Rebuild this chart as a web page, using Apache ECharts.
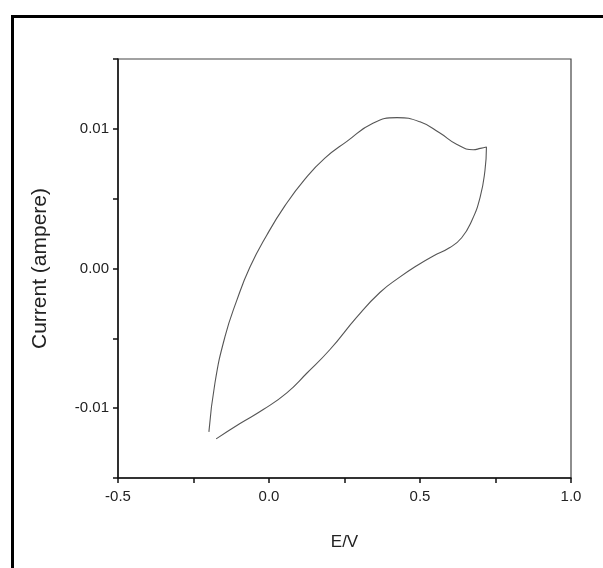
<!DOCTYPE html>
<html>
<head>
<meta charset="utf-8">
<script src="https://cdn.jsdelivr.net/npm/echarts@6/dist/echarts.min.js"></script>
<style>
  html, body { margin: 0; padding: 0; background: #fff; }
  #frame { position: absolute; left: 11px; top: 15px; width: 620px; height: 600px;
           border-left: 3px solid #000; border-top: 3px solid #000; }
  #chart { position: absolute; left: 0; top: 0; width: 603px; height: 568px; }
</style>
</head>
<body>
<div id="frame"></div>
<div id="chart"></div>
<script>
// cyclic voltammogram, traced along the path: anodic sweep up to the vertex, then back
const potential = [
  -0.199, -0.179, -0.146, -0.107, -0.063, -0.007, 0.053, 0.119, 0.185, 0.258,
  0.344, 0.424, 0.500, 0.566, 0.621, 0.676, 0.700, 0.720,
  0.715, 0.699, 0.671, 0.638, 0.599, 0.544, 0.489, 0.434, 0.368, 0.290,
  0.202, 0.125, 0.059, -0.019, -0.096, -0.175
];
const current = [
  -0.0117, -0.0082, -0.0049, -0.0023, 0.0001, 0.0024, 0.0045, 0.0064, 0.0079, 0.0091,
  0.0104, 0.0108, 0.0105, 0.0097, 0.0089, 0.0085, 0.0086, 0.0087,
  0.0070, 0.0051, 0.0034, 0.0022, 0.0015, 0.0009, 0.0002, -0.0006, -0.0017, -0.0035,
  -0.0058, -0.0075, -0.0089, -0.0101, -0.0111, -0.0122
];

const xLabels = [-0.5, 0.0, 0.5, 1.0];
const yLabels = [-0.01, 0.00, 0.01];

const chart = echarts.init(document.getElementById('chart'));

const font = 'Liberation Sans, Arial, sans-serif';
const labelFont = { fontFamily: font, fontSize: 15, color: '#222' };

chart.setOption({
  animation: false,
  grid: {
    left: 118, top: 59, width: 453, height: 419,
    show: true, borderColor: '#444', borderWidth: 1.2
  },
  xAxis: {
    type: 'value',
    min: -0.5, max: 1.0, interval: 0.25,
    name: 'E/V',
    nameLocation: 'middle',
    nameGap: 56,
    nameTextStyle: { fontFamily: font, fontSize: 17, color: '#222' },
    axisLine: { onZero: false, lineStyle: { color: '#111', width: 1.5 } },
    axisTick: { inside: false, length: 5, lineStyle: { color: '#111', width: 1.5 } },
    splitLine: { show: false },
    axisLabel: Object.assign({
      margin: 11,
      formatter: v => xLabels.some(l => Math.abs(l - v) < 1e-6) ? v.toFixed(1) : ''
    }, labelFont)
  },
  yAxis: {
    type: 'value',
    min: -0.015, max: 0.015, interval: 0.005,
    name: 'Current (ampere)',
    nameLocation: 'middle',
    nameGap: 67,
    nameTextStyle: { fontFamily: font, fontSize: 21, color: '#222' },
    axisLine: { onZero: false, lineStyle: { color: '#111', width: 1.5 } },
    axisTick: { inside: false, length: 5, lineStyle: { color: '#111', width: 1.5 } },
    splitLine: { show: false },
    axisLabel: Object.assign({
      margin: 9,
      formatter: v => yLabels.some(l => Math.abs(l - v) < 1e-6) ? v.toFixed(2) : ''
    }, labelFont)
  },
  series: [{
    type: 'line',
    data: potential.map((e, i) => [e, current[i]]),
    smooth: 0.5,
    showSymbol: false,
    lineStyle: { color: '#555', width: 1.1 }
  }]
});
</script>
</body>
</html>
